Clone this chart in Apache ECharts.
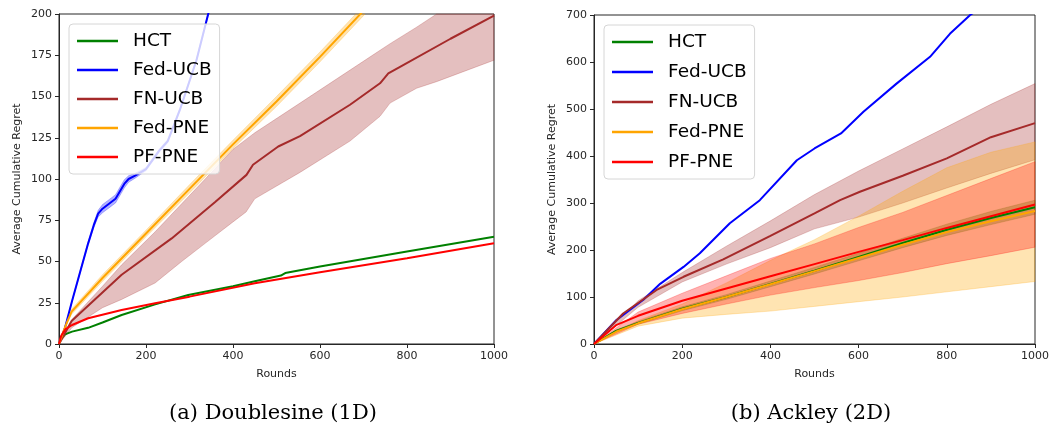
<!DOCTYPE html>
<html>
<head>
<meta charset="utf-8">
<script src="https://cdn.jsdelivr.net/npm/echarts@6/dist/echarts.min.js"></script>
<style>
  html, body { margin: 0; padding: 0; background: #fff; }
  #chart { width: 1055px; height: 429px; }
</style>
</head>
<body>
<div id="chart"></div>
<script>
// ---- (a) Doublesine (1D) ----
const dsHctX = [0, 5, 14, 30, 67, 100, 144, 221, 297, 400, 450, 510, 520, 600, 800, 1000];
const dsHct = [0, 3.2, 5.8, 7.5, 9.8, 13, 17.6, 24, 29.7, 35, 38, 41.5, 43, 47, 56, 65];

const dsFedUcbX = [0, 14, 30, 50, 67, 80, 90, 100, 115, 130, 150, 160, 175, 200, 230, 250, 278, 316, 343, 360];
const dsFedUcb = [0, 10, 26, 45, 61, 72, 79, 82, 85, 88, 97, 100, 102, 106, 117, 123, 142, 172, 200, 215];
const dsFedUcbSpread = [0, 0.5, 0.5, 0.8, 1, 1.5, 2, 2.5, 2.5, 2.5, 2.5, 2, 1.5, 1, 1, 1, 1, 1, 1, 1];

const dsFnUcbX = [0, 29, 144, 259, 359, 431, 446, 504, 554, 669, 738, 757, 784, 900, 1000];
const dsFnUcb = [0, 14, 42, 64, 86, 102.5, 108.6, 119.7, 126, 145, 158, 164, 168, 185, 199];
const dsFnBandX = [0, 30, 100, 144, 221, 282, 336, 400, 430, 450, 554, 669, 738, 761, 822, 868, 1000];
const dsFnUpper = [0, 15, 35, 48, 68, 85, 100, 118, 124, 128, 146, 166, 178, 182, 192, 200, 218];
const dsFnLower = [0, 10, 22, 27, 37, 50, 61, 74, 80, 88, 104, 123, 138, 146, 155, 159, 172];

const dsFedPneX = [0, 8, 18, 29, 100, 200, 300, 400, 500, 600, 700, 750];
const dsFedPne = [0, 6, 13, 19.6, 40, 67, 94, 121, 147, 174, 202, 216];
const dsFedPneSpread = [0, 1, 1, 1.5, 2, 2, 2.5, 2.5, 3, 3, 3, 3];

const dsPfPneX = [0, 5, 15, 30, 67, 144, 221, 300, 450, 600, 800, 1000];
const dsPfPne = [0, 5, 9, 11.5, 15.6, 20.6, 24.7, 28.7, 36.8, 43.5, 52, 61];

// ---- (b) Ackley (2D) ----
const akX = [0, 50, 100, 200, 300, 400, 500, 600, 700, 800, 900, 1000];
const akHct = [0, 28, 45, 75, 100, 128, 156, 185, 215, 243, 268, 291];
const akHctSpread = [0, 2, 3, 4, 5, 6, 7, 8, 10, 12, 14, 15];
const akFedPne = [0, 26, 44, 74, 100, 127, 155, 183, 211, 238, 261, 283];
const akPfPne = [0, 40, 60, 92, 118, 144, 170, 196, 221, 247, 272, 297];

const akFedUcbX = [0, 51, 112, 150, 203, 240, 308, 376, 460, 500, 560, 611, 686, 762, 807, 853, 900];
const akFedUcb = [0, 51, 94, 128, 164, 193, 257, 306, 391, 416, 448, 494, 554, 611, 660, 700, 730];

const akFnUcbX = [0, 66, 142, 203, 293, 400, 500, 558, 603, 700, 800, 900, 1000];
const akFnUcb = [0, 65, 115, 143, 180, 230, 278, 306, 324, 358, 395, 440, 470];

const akBandX = [0, 100, 200, 300, 400, 500, 600, 700, 800, 900, 1000];
const akFnUpper = [0, 92, 152, 208, 262, 318, 368, 415, 462, 510, 554];
const akFnLower = [0, 78, 132, 170, 205, 245, 270, 300, 332, 363, 392];
const akFedPneUpper = [0, 50, 85, 130, 178, 222, 272, 325, 375, 408, 430];
const akFedPneLower = [0, 38, 55, 63, 70, 80, 90, 100, 111, 122, 133];
const akPfUpper = [0, 68, 108, 145, 182, 213, 248, 280, 316, 352, 388];
const akPfLower = [0, 42, 65, 85, 104, 120, 135, 152, 171, 188, 206];

const names = ['HCT', 'Fed-UCB', 'FN-UCB', 'Fed-PNE', 'PF-PNE'];
const GREEN = '#008000', BLUE = '#0000ff', BROWN = '#a52a2a', ORANGE = '#ffa500', RED = '#ff0000';

const pts = (xs, ys) => xs.map((x, i) => [x, ys[i]]);
const minus = (ys, s) => ys.map((y, i) => y - s[i]);
const plus = (ys, s) => ys.map((y, i) => y + s[i]);

function line(name, xs, ys, color, idx) {
  return {
    name: name, type: 'line', xAxisIndex: idx, yAxisIndex: idx,
    data: pts(xs, ys), symbol: 'none', color: color,
    lineStyle: { width: 2, color: color }
  };
}

// clip a polygon (pixel coords) to the plot rectangle
function clipPoly(poly, r) {
  const edges = [
    p => p[0] >= r.x, p => p[0] <= r.x + r.width,
    p => p[1] >= r.y, p => p[1] <= r.y + r.height
  ];
  const cuts = [
    (a, b) => { const t = (r.x - a[0]) / (b[0] - a[0]); return [r.x, a[1] + t * (b[1] - a[1])]; },
    (a, b) => { const t = (r.x + r.width - a[0]) / (b[0] - a[0]); return [r.x + r.width, a[1] + t * (b[1] - a[1])]; },
    (a, b) => { const t = (r.y - a[1]) / (b[1] - a[1]); return [a[0] + t * (b[0] - a[0]), r.y]; },
    (a, b) => { const t = (r.y + r.height - a[1]) / (b[1] - a[1]); return [a[0] + t * (b[0] - a[0]), r.y + r.height]; }
  ];
  let out = poly;
  for (let e = 0; e < 4; e++) {
    const inp = out; out = [];
    for (let i = 0; i < inp.length; i++) {
      const cur = inp[i], prev = inp[(i + inp.length - 1) % inp.length];
      const ci = edges[e](cur), pi = edges[e](prev);
      if (ci) { if (!pi) out.push(cuts[e](prev, cur)); out.push(cur); }
      else if (pi) out.push(cuts[e](prev, cur));
    }
    if (!out.length) break;
  }
  return out;
}

function band(name, xs, lo, hi, color, idx) {
  return {
    name: name + ' band', type: 'custom', xAxisIndex: idx, yAxisIndex: idx,
    silent: true, data: [[xs[0], lo[0]]],
    renderItem: function (params, api) {
      const upper = xs.map((x, i) => api.coord([x, hi[i]]));
      const lower = xs.map((x, i) => api.coord([x, lo[i]])).reverse();
      const poly = clipPoly(upper.concat(lower), params.coordSys);
      return {
        type: 'polygon', shape: { points: poly },
        style: { fill: color, opacity: 0.3, stroke: color, lineWidth: 0.8 }
      };
    }
  };
}

const series = [
  // left
  line('HCT', dsHctX, dsHct, GREEN, 0),
  line('Fed-UCB', dsFedUcbX, dsFedUcb, BLUE, 0),
  band('Fed-UCB', dsFedUcbX, minus(dsFedUcb, dsFedUcbSpread), plus(dsFedUcb, dsFedUcbSpread), BLUE, 0),
  line('FN-UCB', dsFnUcbX, dsFnUcb, BROWN, 0),
  band('FN-UCB', dsFnBandX, dsFnLower, dsFnUpper, BROWN, 0),
  line('Fed-PNE', dsFedPneX, dsFedPne, ORANGE, 0),
  band('Fed-PNE', dsFedPneX, minus(dsFedPne, dsFedPneSpread), plus(dsFedPne, dsFedPneSpread), ORANGE, 0),
  line('PF-PNE', dsPfPneX, dsPfPne, RED, 0),
  // right
  line('HCT', akX, akHct, GREEN, 1),
  band('HCT', akX, minus(akHct, akHctSpread), plus(akHct, akHctSpread), GREEN, 1),
  line('Fed-UCB', akFedUcbX, akFedUcb, BLUE, 1),
  line('FN-UCB', akFnUcbX, akFnUcb, BROWN, 1),
  band('FN-UCB', akBandX, akFnLower, akFnUpper, BROWN, 1),
  line('Fed-PNE', akX, akFedPne, ORANGE, 1),
  band('Fed-PNE', akBandX, akFedPneLower, akFedPneUpper, ORANGE, 1),
  line('PF-PNE', akX, akPfPne, RED, 1),
  band('PF-PNE', akBandX, akPfLower, akPfUpper, RED, 1)
];

const tickColor = '#262626';
function xAxis(idx) {
  return {
    type: 'value', gridIndex: idx, min: 0, max: 1000, interval: 200,
    name: 'Rounds', nameLocation: 'middle', nameGap: 25,
    nameTextStyle: { fontSize: 11, color: tickColor },
    axisLine: { show: true, lineStyle: { color: tickColor, width: 1 } },
    axisTick: { show: true, length: 4, lineStyle: { color: tickColor } },
    axisLabel: { fontSize: 11, color: tickColor, margin: 7, formatter: v => String(v) },
    splitLine: { show: false }
  };
}
function yAxis(idx, max, interval, gap) {
  return {
    type: 'value', gridIndex: idx, min: 0, max: max, interval: interval,
    name: 'Average Cumulative Regret', nameLocation: 'middle', nameGap: gap,
    nameTextStyle: { fontSize: 11, color: tickColor },
    axisLine: { show: true, lineStyle: { color: tickColor, width: 1 } },
    axisTick: { show: true, length: 4, lineStyle: { color: tickColor } },
    axisLabel: { fontSize: 11, color: tickColor, margin: 7, formatter: v => String(v) },
    splitLine: { show: false }
  };
}
function legend(left, top, gap) {
  return {
    data: names, orient: 'vertical', left: left, top: top,
    icon: 'rect', itemWidth: 41, itemHeight: 2.5, itemGap: gap,
    padding: [7, 8, 7, 8],
    backgroundColor: 'rgba(255,255,255,0.8)',
    borderColor: '#d6d6d6', borderWidth: 1, borderRadius: 4,
    textStyle: { fontSize: 18.5, lineHeight: 20, color: '#000', padding: [0, 0, 0, 10] },
    selectedMode: false
  };
}

const chart = echarts.init(document.getElementById('chart'), null, { renderer: 'canvas' });
chart.setOption({
  animation: false,
  backgroundColor: '#fff',
  textStyle: { fontFamily: 'DejaVu Sans' },
  grid: [
    { left: 59, top: 14, width: 435, height: 330, show: true, borderColor: tickColor, borderWidth: 1 },
    { left: 594, top: 15, width: 441, height: 329, show: true, borderColor: tickColor, borderWidth: 1 }
  ],
  xAxis: [xAxis(0), xAxis(1)],
  yAxis: [yAxis(0, 200, 25, 36), yAxis(1, 700, 100, 36)],
  legend: [legend(69, 24, 9), legend(604, 25, 10)],
  series: series,
  graphic: [
    { type: 'text', x: 273, y: 414, style: { text: '(a) Doublesine (1D)', font: '21px "DejaVu Serif"', fill: '#000', align: 'center', verticalAlign: 'middle' } },
    { type: 'text', x: 811, y: 414, style: { text: '(b) Ackley (2D)', font: '21px "DejaVu Serif"', fill: '#000', align: 'center', verticalAlign: 'middle' } }
  ]
});
</script>
</body>
</html>
